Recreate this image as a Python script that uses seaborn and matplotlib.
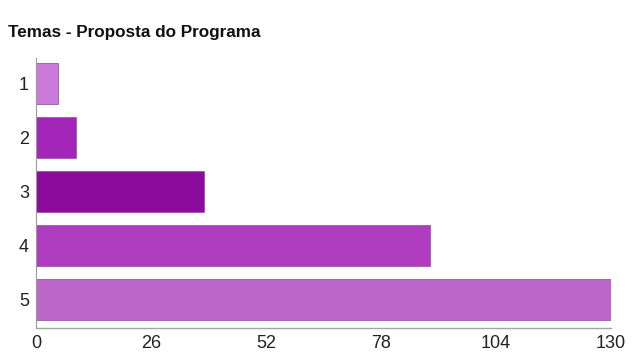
import matplotlib
matplotlib.use("Agg")
import matplotlib.pyplot as plt
import seaborn as sns
import pandas as pd

categories = ["1", "2", "3", "4", "5"]
values = [5, 9, 38, 89, 130]
colors = ["#cc7ad9", "#a326b8", "#8c0a9c", "#b03cc0", "#bd66c9"]
xticks = [0, 26, 52, 78, 104, 130]

sns.set_theme(style="white")
plt.rcParams["font.family"] = ["Liberation Sans", "DejaVu Sans"]

df = pd.DataFrame({"tema": categories, "n": values})

fig = plt.figure(figsize=(6.34, 3.59), dpi=100)
ax = fig.add_axes([36 / 634, 1 - 328 / 359, 575 / 634, 270 / 359])

sns.barplot(data=df, y="tema", x="n", hue="tema", palette=colors,
            orient="h", width=0.76, legend=False, ax=ax, saturation=1,
            edgecolor="#9a5aa8", linewidth=0.6)

ax.set_xlim(0, 130)
ax.set_ylim(4.53, -0.47)
ax.set_xticks(xticks)
ax.set_xticklabels([str(t) for t in xticks])
ax.set_xlabel("")
ax.set_ylabel("")
ax.tick_params(axis="both", labelsize=13, colors="#222222", length=3,
               width=0.8, pad=2)
ax.tick_params(axis="x", color="#99aa99")
ax.tick_params(axis="y", color="#999999")
for s in ["top", "right"]:
    ax.spines[s].set_visible(False)
ax.spines["bottom"].set_color("#99aa99")
ax.spines["left"].set_color("#999999")
ax.spines["bottom"].set_linewidth(1.0)
ax.spines["left"].set_linewidth(0.8)

fig.text(8 / 634, 1 - 33 / 359, "Temas - Proposta do Programa",
         fontsize=12.3, fontweight="bold", color="#111111",
         ha="left", va="center")

fig.savefig("out.png", dpi=100, facecolor="white")
